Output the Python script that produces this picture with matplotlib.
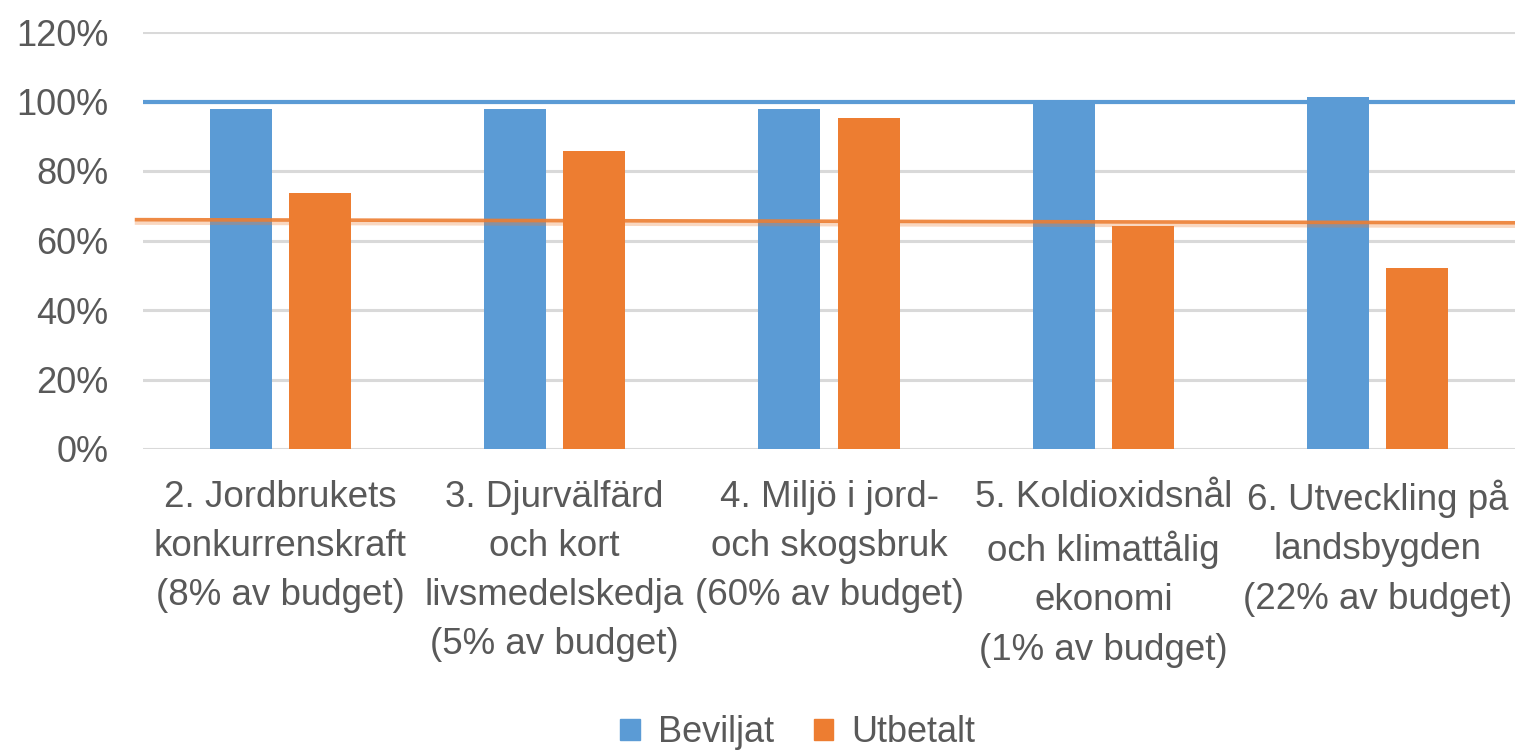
import matplotlib
matplotlib.use("Agg")
import matplotlib.pyplot as plt
from matplotlib.patches import Patch
import numpy as np

categories = [
    "2. Jordbrukets\nkonkurrenskraft\n(8% av budget)",
    "3. Djurvälfärd\noch kort\nlivsmedelskedja\n(5% av budget)",
    "4. Miljö i jord-\noch skogsbruk\n(60% av budget)",
    "5. Koldioxidsnål\noch klimattålig\nekonomi\n(1% av budget)",
    "6. Utveckling på\nlandsbygden\n(22% av budget)",
]
beviljat = [97.9, 97.9, 97.9, 99.7, 101.3]
utbetalt = [73.7, 85.8, 95.3, 64.2, 52.2]
series_names = ["Beviljat", "Utbetalt"]
ref_blue = [100, 100]        # reference line (start, end) in %
ref_orange = [66.0, 65.1]    # reference line (start, end) in %
yticks = [0, 20, 40, 60, 80, 100, 120]

BLUE = "#5B9BD5"
ORANGE = "#ED7D31"
TXT = "#595959"
GRID = "#D9D9D9"

plt.rcParams['font.family'] = ['Liberation Sans', 'DejaVu Sans']

fig = plt.figure(figsize=(15.34, 7.53), dpi=100)
ax = fig.add_axes([143/1534, 1-449/753, (1515-143)/1534, (449-32)/753])

x = np.arange(len(categories))
w = 0.226
gap = 0.062
ax.bar(x - (w+gap)/2, beviljat, width=w, color=BLUE, zorder=3)
ax.bar(x + (w+gap)/2, utbetalt, width=w, color=ORANGE, zorder=3)

ax.plot([-0.5, 4.5], ref_blue, color=BLUE, lw=3, zorder=4, solid_capstyle='butt')
ax.plot([-0.53, 4.5], ref_orange, color=ORANGE, lw=2.6, zorder=4, solid_capstyle='butt', alpha=0.9)
ax.plot([-0.53, 4.5], [v - 0.9 for v in ref_orange], color=ORANGE, lw=3, zorder=4,
        solid_capstyle='butt', alpha=0.3)

ax.set_xlim(-0.5, 4.5)
ax.set_ylim(0, 120)
ax.set_yticks(yticks)
ax.set_yticklabels([f"{v}%" for v in yticks], fontsize=26, color=TXT)
ax.set_xticks(x)
ax.set_xticklabels(categories, fontsize=26.5, color=TXT, linespacing=1.53)
ax.tick_params(axis='both', length=0)
ax.tick_params(axis='y', pad=25)
ax.tick_params(axis='x', pad=22)
ax.grid(axis='y', color=GRID, lw=2.2, zorder=0)
ax.set_axisbelow(True)
for s in ax.spines.values():
    s.set_visible(False)
for ln in ax.lines:
    ln.set_clip_on(False)

handles = [Patch(color=BLUE), Patch(color=ORANGE)]
fig.legend(handles, series_names, loc='center', bbox_to_anchor=(0.52, 0.027),
           ncol=2, frameon=False, fontsize=26, labelcolor=TXT,
           handlelength=0.55, handleheight=0.55, handletextpad=0.5, columnspacing=1.1,
           borderpad=0.1)

fig.savefig("out.png", dpi=100, facecolor="white")
